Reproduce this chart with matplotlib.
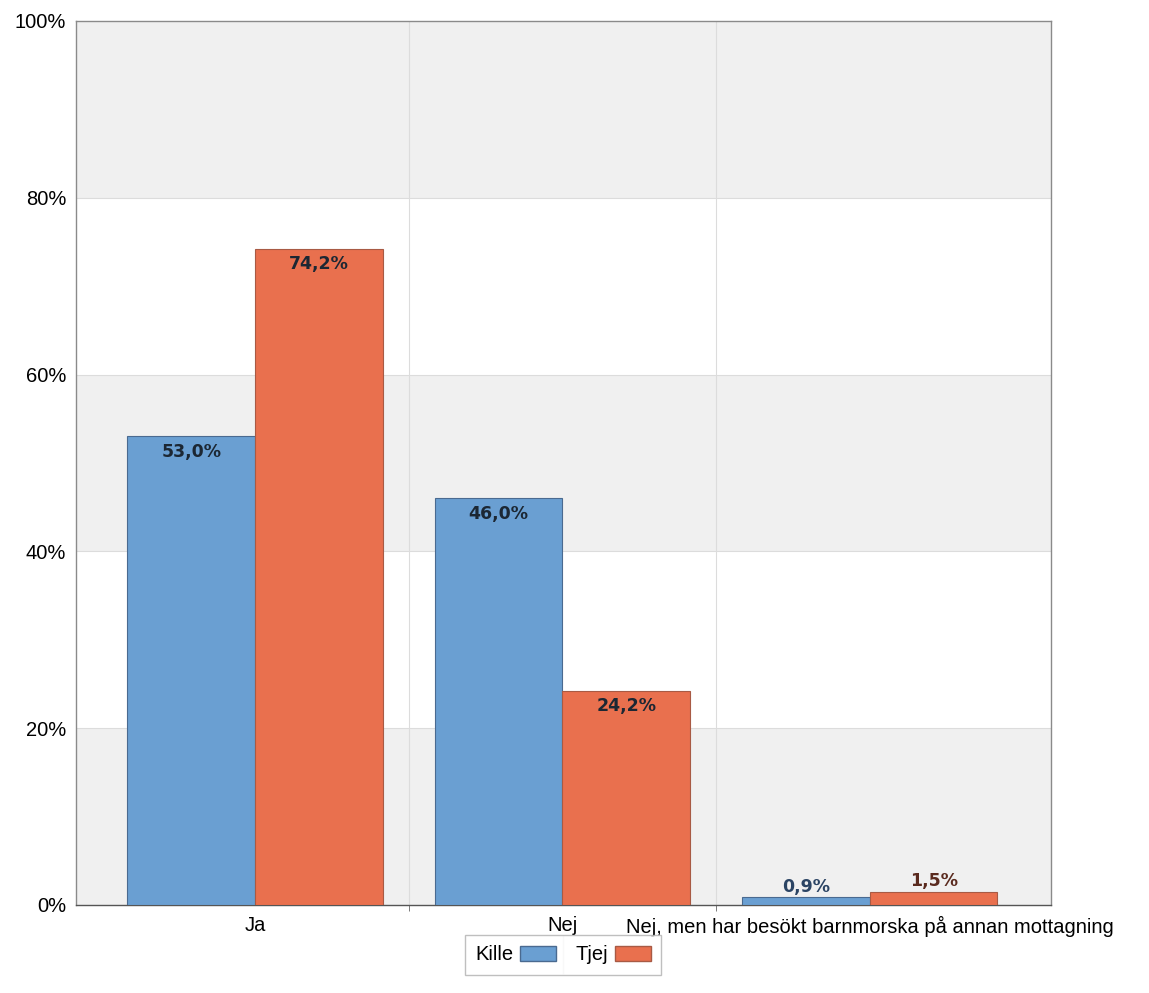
import numpy as np
import matplotlib.pyplot as plt
from matplotlib.lines import Line2D
from matplotlib.patches import Patch

categories = ['Ja', 'Nej', 'Nej, men har besökt barnmorska på annan mottagning']
kille = [53.0, 46.0, 0.9]
tjej = [74.2, 24.2, 1.5]
series_names = ['Kille', 'Tjej']
y_ticks = [0, 20, 40, 60, 80, 100]

plt.rcParams['font.family'] = ['Liberation Sans', 'DejaVu Sans']

fig = plt.figure(figsize=(11.49, 9.93), dpi=100)
ax = fig.add_axes([76 / 1149, 1 - 905 / 993, 975 / 1149, 884 / 993])

# alternating background bands
for i in range(len(y_ticks) - 1):
    color = '#f0f0f0' if i % 2 == 0 else 'white'
    ax.axhspan(y_ticks[i], y_ticks[i + 1], color=color, zorder=0, lw=0)
for y in y_ticks[1:-1]:
    ax.axhline(y, color='#dcdcdc', lw=0.8, zorder=1)
for xv in [0.5, 1.5]:
    ax.axvline(xv, color='#dcdcdc', lw=0.8, zorder=1)

x = np.arange(len(categories))
w = 0.415
colors = ['#6a9fd2', '#e9704e']
edges = ['#4a6a90', '#a85a44']
above_colors = ['#2b4464', '#5a2a1e']

for k, (vals, c, ec) in enumerate(zip([kille, tjej], colors, edges)):
    xs = x + (k - 0.5) * w
    ax.bar(xs, vals, width=w, color=c, edgecolor=ec, linewidth=0.8, zorder=3)
    for xi, v in zip(xs, vals):
        lbl = f'{v:.1f}%'.replace('.', ',')
        if v > 5:
            ax.text(xi, v - 0.7, lbl, ha='center', va='top', fontsize=12.5,
                    fontweight='bold', family=['DejaVu Sans'], color='#1c2733', zorder=4)
        else:
            ax.text(xi, v + 0.15, lbl, ha='center', va='bottom', fontsize=12.5,
                    fontweight='bold', family=['DejaVu Sans'], color=above_colors[k], zorder=4)

ax.set_xlim(-0.582, 2.589)
ax.set_ylim(0, 100)
ax.set_yticks(y_ticks)
ax.set_yticklabels([f'{t}%' for t in y_ticks], fontsize=14.5)
ax.set_xticks(x)
ax.set_xticklabels(categories, fontsize=14.5)
ax.set_xticks([0.5, 1.5], minor=True)
ax.tick_params(axis='x', which='major', length=0, pad=8)
ax.tick_params(axis='x', which='minor', length=4, color='#666666')
ax.tick_params(axis='y', length=0, pad=7)
for s in ax.spines.values():
    s.set_color('#8a8a8a')
    s.set_linewidth(1.0)
ax.spines['bottom'].set_color('#555555')

handles = [Patch(facecolor=colors[0], edgecolor=edges[0], label=series_names[0]),
           Patch(facecolor=colors[1], edgecolor=edges[1], label=series_names[1])]
leg = fig.legend(handles=handles, loc='center', bbox_to_anchor=(563 / 1149, 1 - 955 / 993),
                 ncol=2, markerfirst=False, fontsize=14.5, frameon=True, fancybox=False,
                 handlelength=1.75, handleheight=0.8, columnspacing=1.0, handletextpad=0.35,
                 borderpad=0.5)
leg.get_frame().set_edgecolor('#b0b0b0')
leg.get_frame().set_linewidth(1.0)
fig.add_artist(Line2D([563 / 1149, 563 / 1149], [1 - 936 / 993, 1 - 973 / 993],
                      color='#dddddd', lw=1.0, transform=fig.transFigure))

fig.savefig('out.png', dpi=100)
